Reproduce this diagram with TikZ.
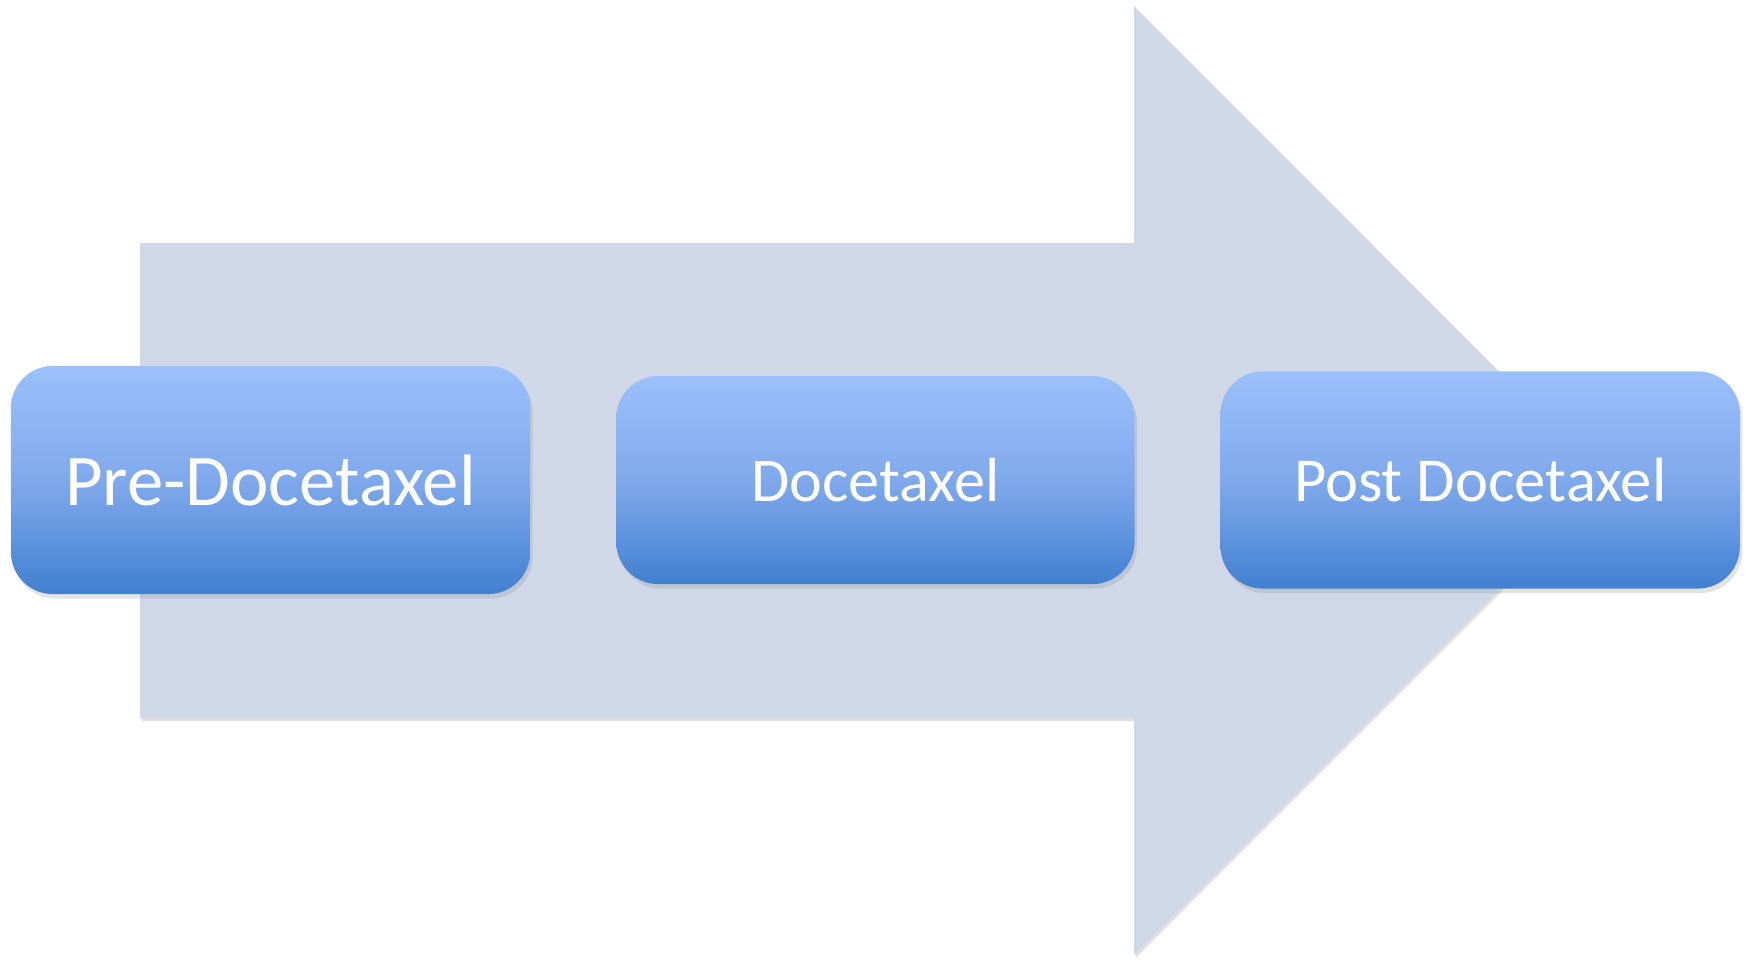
\documentclass[tikz,border=0pt]{standalone}
\usepackage{fontspec}
\setmainfont{Carlito}
\usetikzlibrary{positioning, shadows}

\definecolor{arrowfill}{RGB}{208,216,232}
\definecolor{boxtop}{RGB}{155,192,251}
\definecolor{boxmid}{RGB}{128,169,236}
\definecolor{boxbot}{RGB}{65,128,208}

\begin{document}
\begin{tikzpicture}[x=0.01cm, y=-0.01cm,
    phase/.style = {rounded corners=0.42cm, top color=boxtop, bottom color=boxbot, middle color=boxmid,
                    text=white, inner sep=0pt, outer sep=0pt,
                    drop shadow={shadow xshift=0.25mm, shadow yshift=-0.45mm, opacity=0.22}}]
            \useasboundingbox (0,0) rectangle (1752,959);
            % big arrow behind the phases
            \fill[arrowfill, drop shadow={shadow xshift=0.15mm, shadow yshift=-0.3mm, opacity=0.25}]
                (140,243) -- (1134,243) -- (1134,6) -- (1608,480.5) -- (1134,955) -- (1134,718) -- (140,718) -- cycle;
            \node[phase, minimum width=5.19cm, minimum height=2.28cm, font=\fontsize{20.7}{24}\selectfont] (pre) at (270.5,480) {Pre-Docetaxel};
            \node[phase, minimum width=5.18cm, minimum height=2.08cm, font=\fontsize{17.7}{21}\selectfont] (doc) [right=0.86cm of pre] {Docetaxel};
            \node[phase, minimum width=5.19cm, minimum height=2.17cm, font=\fontsize{17.8}{21}\selectfont] (post) [right=0.86cm of doc] {Post Docetaxel};
        \end{tikzpicture}
\end{document}
